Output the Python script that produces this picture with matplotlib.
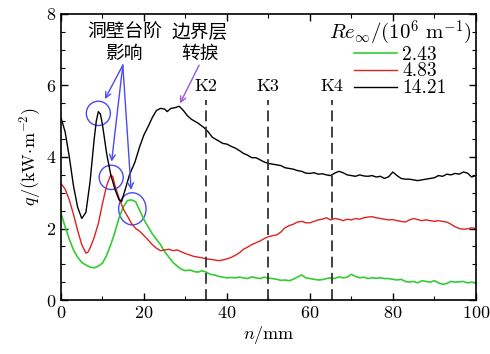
import numpy as np
import matplotlib
matplotlib.use('Agg')
import matplotlib.pyplot as plt
from matplotlib.patches import Ellipse

plt.rcParams['font.family'] = ['cmr10', 'DejaVu Serif']
plt.rcParams['mathtext.fontset'] = 'cm'
plt.rcParams['axes.formatter.use_mathtext'] = True

# Re = 14.21
x_black = [0, 1, 2, 3, 4, 5, 6, 7, 8, 8.5, 9, 9.5, 10, 11, 12, 13, 14, 14.6, 15.5, 16.5,
           17.8, 19, 20, 21, 22, 23, 24, 25, 25.6, 26.5, 27.5, 28.5, 29.5, 30.5, 31.5, 33,
           34.5, 35.5, 36.5, 38] + list(range(39, 101))
y_black = [5.10, 4.70, 4.00, 3.20, 2.60, 2.28, 2.45, 3.30, 4.50, 5.00, 5.27, 5.20, 4.90,
           4.10, 3.50, 3.10, 2.80, 2.75, 3.10, 3.50, 3.85, 4.30, 4.62, 4.85, 5.10, 5.30,
           5.36, 5.34, 5.27, 5.36, 5.38, 5.42, 5.30, 5.15, 5.05, 4.95, 4.82, 4.70, 4.55,
           4.45,
           4.38, 4.36, 4.30, 4.25, 4.18, 4.10, 4.05, 3.98, 3.98, 3.92, 3.86, 3.82, 3.80,
           3.78, 3.76, 3.70, 3.68, 3.66, 3.62, 3.60, 3.55, 3.54, 3.56, 3.52, 3.53, 3.50,
           3.48, 3.55, 3.60, 3.56, 3.50, 3.48, 3.46, 3.50, 3.47, 3.46, 3.48, 3.44, 3.46,
           3.40, 3.45, 3.58, 3.48, 3.40, 3.38, 3.38, 3.36, 3.34, 3.36, 3.38, 3.40, 3.42,
           3.48, 3.46, 3.52, 3.50, 3.54, 3.52, 3.58, 3.55, 3.44, 3.48]

# Re = 4.83
x_red = [0, 1, 2, 3, 4, 5, 6, 6.5, 7, 8, 9, 10, 11, 12, 12.5, 13] + list(range(14, 101))
y_red = [3.26, 3.10, 2.80, 2.40, 1.95, 1.55, 1.31, 1.34, 1.45, 1.75, 2.14, 2.70, 3.20,
         3.50, 3.45, 3.20,
         2.85, 2.55, 2.35, 2.14, 2.00, 1.92, 1.80, 1.68, 1.55, 1.45, 1.38, 1.40, 1.42,
         1.38, 1.40, 1.35, 1.30, 1.26, 1.22, 1.20, 1.18, 1.15, 1.14, 1.12, 1.10, 1.12,
         1.15, 1.19, 1.25, 1.32, 1.42, 1.48, 1.55, 1.60, 1.65, 1.72, 1.77, 1.80, 1.82,
         1.90, 2.02, 2.08, 2.12, 2.18, 2.20, 2.16, 2.16, 2.20, 2.24, 2.26, 2.30, 2.24,
         2.28, 2.26, 2.22, 2.26, 2.24, 2.28, 2.26, 2.30, 2.32, 2.33, 2.30, 2.28, 2.26,
         2.24, 2.25, 2.22, 2.20, 2.18, 2.24, 2.28, 2.25, 2.22, 2.24, 2.22, 2.20, 2.22,
         2.20, 2.18, 2.12, 2.05, 2.00, 1.98, 1.99, 2.02, 2.00]

# Re = 2.43
x_green = list(range(0, 101))
y_green = [2.42, 2.05, 1.70, 1.40, 1.20, 1.05, 0.98, 0.92, 0.90, 0.95, 1.03, 1.25, 1.55,
           1.90, 2.30, 2.60, 2.78, 2.80, 2.75, 2.50, 2.25, 2.05, 1.85, 1.70, 1.55, 1.35,
           1.20, 1.05, 0.95, 0.86, 0.82, 0.84, 0.80, 0.78, 0.82, 0.78, 0.72, 0.70, 0.66,
           0.64, 0.62, 0.63, 0.62, 0.64, 0.62, 0.60, 0.65, 0.62, 0.60, 0.64, 0.61, 0.60,
           0.58, 0.55, 0.56, 0.54, 0.58, 0.64, 0.70, 0.62, 0.60, 0.58, 0.56, 0.57, 0.60,
           0.62, 0.60, 0.65, 0.62, 0.64, 0.72, 0.66, 0.62, 0.64, 0.60, 0.62, 0.61, 0.62,
           0.60, 0.60, 0.58, 0.56, 0.58, 0.52, 0.50, 0.52, 0.48, 0.54, 0.52, 0.50, 0.54,
           0.48, 0.44, 0.46, 0.52, 0.50, 0.51, 0.52, 0.48, 0.50, 0.47]

k_pos = [35, 50, 65.3]
k_labels = ['K2', 'K3', 'K4']

fig = plt.figure(figsize=(4.9, 3.54), dpi=100)
ax = fig.add_axes([0.1245, 0.1525, 0.8465, 0.808])

ax.plot(x_green, y_green, color='#33cc33', lw=1.2, label='2.43')
ax.plot(x_red, y_red, color='#dd2222', lw=1.0, label='4.83')
ax.plot(x_black, y_black, color='black', lw=1.0, label='14.21')

# positions of the pressure taps
for xk, lab in zip(k_pos, k_labels):
    ax.plot([xk, xk], [0, 5.6], color='#333333', lw=1.3, ls=(0, (6, 3)))
    ax.text(xk, 5.98, lab, ha='center', va='center', fontsize=13)

ax.set_xlim(0, 100)
ax.set_ylim(0, 8)
ax.set_xticks([0, 20, 40, 60, 80, 100])
ax.set_xticks(np.arange(10, 100, 20), minor=True)
ax.set_yticks([0, 2, 4, 6, 8])
ax.set_yticks(np.arange(0, 8.01, 0.5), minor=True)
ax.tick_params(which='both', direction='in', top=True, right=True, labelsize=13)
ax.tick_params(which='major', length=5, width=1)
ax.tick_params(which='minor', length=3, width=0.8)
for s in ax.spines.values():
    s.set_linewidth(1.2)

ax.set_xlabel(r'$n/\mathrm{mm}$', fontsize=13, labelpad=2)
ax.set_ylabel(r'$q/(\mathrm{kW\!\cdot\! m^{-2}})$', fontsize=13, labelpad=2)

leg = ax.legend(loc='upper right', bbox_to_anchor=(0.99, 0.985), frameon=False, fontsize=14,
                title=r'$Re_{\infty}/(10^6\ \mathrm{m}^{-1})$', title_fontsize=15,
                handlelength=2.2, handletextpad=0.3, labelspacing=-0.05,
                borderaxespad=0, borderpad=0)

# annotations
cjk = ['Noto Sans CJK SC', 'DejaVu Sans']
blue = '#4a4af0'
ax.text(15.4, 7.2, '洞壁台阶\n影响', ha='center', va='center', fontsize=13.5,
        family=cjk, linespacing=1.0)
ax.text(33.5, 7.2, '边界层\n转捩', ha='center', va='center', fontsize=13.5,
        family=cjk, linespacing=1.0)

src = (14.9, 6.57)
for tgt in [(10.6, 5.62), (12.2, 3.87), (16.9, 3.08)]:
    ax.annotate('', xy=tgt, xytext=src,
                arrowprops=dict(arrowstyle='->', color=blue, lw=1.0, shrinkA=0, shrinkB=0))
ax.annotate('', xy=(28.7, 5.5), xytext=(33.3, 6.57),
            arrowprops=dict(arrowstyle='->', color='#9955dd', lw=1.0, shrinkA=0, shrinkB=0))

for cx, cy, w, h in [(9.0, 5.22, 5.8, 0.68), (12.1, 3.43, 5.8, 0.68), (17.2, 2.55, 6.6, 0.9)]:
    ax.add_patch(Ellipse((cx, cy), w, h, fill=False, edgecolor=blue, lw=1.0))

plt.savefig('out.png', dpi=100)
